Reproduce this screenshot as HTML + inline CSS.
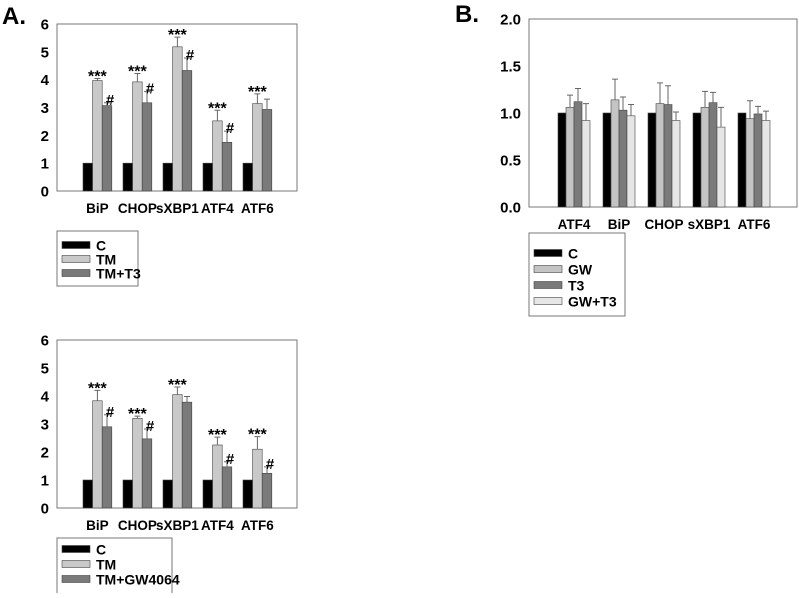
<!DOCTYPE html>
<html><head><meta charset="utf-8"><style>
body{margin:0;background:#fff;width:799px;height:593px;overflow:hidden}
svg{font-family:"Liberation Sans",Arial,sans-serif;font-weight:bold}
</style></head><body>
<svg id="s" width="799" height="593">
<text x="2" y="24" font-size="24">A.</text>
<text x="455" y="22" font-size="24">B.</text>
</svg>
<script>
const catsA=["BiP","CHOP","sXBP1","ATF4","ATF6"];
const a1C=[1,1,1,1,1];
const a1TM=[3.97,3.92,5.18,2.52,3.14];
const a1TMerr=[0.07,0.3,0.35,0.38,0.35];
const a1T3=[3.07,3.17,4.33,1.75,2.93];
const a1T3err=[0.1,0.4,0.45,0.4,0.37];
const a1Star=[1,1,1,1,1];
const a1Hash=[1,1,1,1,0];
const a2C=[1,1,1,1,1];
const a2TM=[3.83,3.2,4.05,2.25,2.1];
const a2TMerr=[0.37,0.08,0.27,0.28,0.45];
const a2GW=[2.9,2.47,3.78,1.47,1.24];
const a2GWerr=[0.43,0.35,0.2,0.18,0.23];
const a2Star=[1,1,1,1,1];
const a2Hash=[1,1,0,1,1];
const ticksA=[0,1,2,3,4,5,6];
const catsB=["ATF4","BiP","CHOP","sXBP1","ATF6"];
const bC=[1,1,1,1,1];
const bGW=[1.06,1.14,1.1,1.06,0.94];
const bGWerr=[0.13,0.22,0.22,0.17,0.19];
const bT3=[1.12,1.03,1.09,1.11,0.99];
const bT3err=[0.14,0.14,0.2,0.11,0.08];
const bGT=[0.92,0.97,0.92,0.85,0.92];
const bGTerr=[0.18,0.12,0.09,0.21,0.1];
const ticksB=[0,0.5,1.0,1.5,2.0];

const S=document.getElementById('s');const NS="http://www.w3.org/2000/svg";
function el(t,a,txt){const e=document.createElementNS(NS,t);for(const k in a)e.setAttribute(k,a[k]);if(txt!==undefined)e.textContent=txt;S.appendChild(e);return e;}

function chart(o){
  const y=v=>o.bottom-(v-o.ymin)/(o.ymax-o.ymin)*(o.bottom-o.top);
  let r=el('rect',{x:o.left,y:o.top,width:o.right-o.left,height:o.bottom-o.top,fill:'none',stroke:'#777','stroke-width':1});
  
  o.ticks.forEach(t=>{
    let tx=el('text',{x:o.left-8,y:y(t)+5.5,'font-size':15,'text-anchor':'end'},o.fmt(t));
    
  });
  o.cats.forEach((c,i)=>{
    const gx=o.x0+i*o.gap;
    o.series.forEach((s,j)=>{
      const bx=gx+j*o.bw, v=s.vals[i];
      let b=el('rect',{x:bx,y:y(v),width:o.bw,height:o.bottom-y(v),fill:s.color,stroke:'#444','stroke-width':0.6});
      
      if(s.err){const cx=bx+o.bw/2, ty=y(v+s.err[i]);
        let e=el('path',{d:`M${cx} ${y(v)}V${ty}M${cx-3} ${ty}H${cx+3}`,stroke:'#666','stroke-width':1,fill:'none'});
        
        if(s.mark&&s.mark[i]){let m=el('text',{x:s.sym==='#'?cx+3:cx,y:s.sym==='#'?ty+2:ty+3,'font-size':s.sym==='#'?15:16,'text-anchor':'middle'},s.sym);
          }
      }
    });
    let lt=el('text',{x:gx+o.bw*o.series.length/2,y:o.bottom+22,'font-size':13.5,'text-anchor':'middle'},c);
    
  });
  const L=o.legend;
  let lb=el('rect',{x:L.x,y:L.y,width:L.w,height:L.h,fill:'none',stroke:'#777'});
  
  o.series.forEach((s,j)=>{
    const ly=L.y+L.first+j*L.step;
    let sw=el('rect',{x:L.x+5,y:ly-3.5,width:28,height:7,fill:s.color,stroke:'#444','stroke-width':0.6});
    
    let t=el('text',{x:L.x+39,y:ly+5.5,'font-size':14},s.label);
    
  });
}
const f0=t=>String(t), f1=t=>t.toFixed(1);
chart({name:'a-top',left:57,right:297,top:24,bottom:191,ymin:0,ymax:6,ticks:ticksA,fmt:f0,cats:catsA,x0:83,gap:40,bw:9.6,
 series:[{label:'C',color:'#000',vals:a1C},{label:'TM',color:'#c9c9c9',vals:a1TM,err:a1TMerr,mark:a1Star,sym:'***'},{label:'TM+T3',color:'#7a7a7a',vals:a1T3,err:a1T3err,mark:a1Hash,sym:'#'}],
 legend:{x:57,y:231,w:81,h:55,first:14,step:14}});
chart({name:'a-bottom',left:57,right:297,top:340,bottom:508,ymin:0,ymax:6,ticks:ticksA,fmt:f0,cats:catsA,x0:83,gap:40,bw:9.6,
 series:[{label:'C',color:'#000',vals:a2C},{label:'TM',color:'#c9c9c9',vals:a2TM,err:a2TMerr,mark:a2Star,sym:'***'},{label:'TM+GW4064',color:'#7a7a7a',vals:a2GW,err:a2GWerr,mark:a2Hash,sym:'#'}],
 legend:{x:57,y:538,w:115,h:60,first:11,step:15}});
chart({name:'b',left:529,right:797,top:19,bottom:207,ymin:0,ymax:2,ticks:ticksB,fmt:f1,cats:catsB,x0:558,gap:45,bw:8,
 series:[{label:'C',color:'#000',vals:bC},{label:'GW',color:'#c4c4c4',vals:bGW,err:bGWerr},{label:'T3',color:'#7a7a7a',vals:bT3,err:bT3err},{label:'GW+T3',color:'#e6e6e6',vals:bGT,err:bGTerr}],
 legend:{x:529,y:233,w:96,h:83,first:20,step:16}});
</script>
</body></html>
